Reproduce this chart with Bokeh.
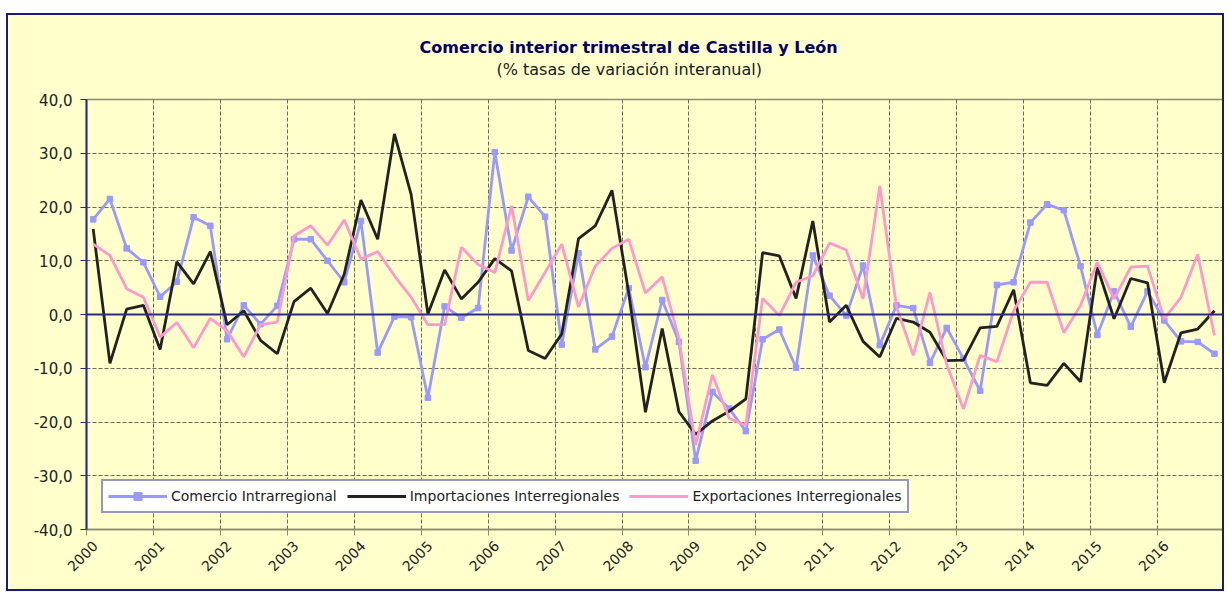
import math
from bokeh.plotting import figure
from bokeh.models import (FixedTicker, CustomJSTickFormatter, Span, Legend, LegendItem,
                          Title, Spacer)
from bokeh.layouts import column, row
from bokeh.embed import file_html
from bokeh.resources import INLINE

# ---------------- data ----------------
years = list(range(2000, 2017))
quarters = [1, 2, 3, 4]

comercio_intrarregional = [
    17.7, 21.5, 12.3, 9.7,
    3.3, 6.1, 18.1, 16.5,
    -4.6, 1.7, -1.8, 1.6,
    14.0, 14.0, 10.0, 6.0,
    17.4, -7.1, -0.4, -0.5,
    -15.5, 1.5, -0.6, 1.2,
    30.2, 11.9, 21.9, 18.2,
    -5.6, 11.4, -6.5, -4.1,
    4.9, -9.8, 2.7, -5.1,
    -27.2, -14.4, -17.5, -21.7,
    -4.6, -2.8, -9.9, 11.0,
    3.5, -0.2, 9.1, -5.7,
    1.7, 1.2, -9.0, -2.5,
    -8.2, -14.2, 5.5, 6.0,
    17.1, 20.5, 19.4, 9.0,
    -3.8, 4.3, -2.3, 4.3,
    -1.1, -5.0, -5.1, -7.3,
]

importaciones_interregionales = [
    15.9, -9.1, 1.0, 1.7,
    -6.5, 9.8, 5.7, 11.7,
    -1.9, 0.7, -4.8, -7.3,
    2.4, 4.9, 0.2, 7.5,
    21.3, 14.0, 33.6, 22.3,
    0.1, 8.3, 2.9, 6.0,
    10.4, 8.1, -6.7, -8.2,
    -3.6, 14.1, 16.5, 23.1,
    4.0, -18.2, -2.6, -18.1,
    -22.3, -19.8, -18.0, -15.7,
    11.5, 10.9, 3.0, 17.4,
    -1.4, 1.7, -5.0, -7.9,
    -0.7, -1.4, -3.3, -8.6,
    -8.5, -2.5, -2.2, 4.6,
    -12.7, -13.2, -9.1, -12.5,
    8.8, -0.8, 6.7, 5.9,
    -12.7, -3.4, -2.7, 0.7,
]

exportaciones_interregionales = [
    13.1, 11.0, 4.8, 3.2,
    -4.2, -1.5, -6.2, -0.7,
    -3.0, -7.9, -1.9, -1.4,
    14.6, 16.5, 12.9, 17.6,
    10.3, 11.7, 7.2, 3.2,
    -1.9, -1.9, 12.5, 9.3,
    7.8, 20.2, 2.6, 7.8,
    13.1, 1.4, 9.0, 12.3,
    14.0, 4.0, 7.0, -4.5,
    -24.3, -11.2, -19.3, -20.6,
    3.0, -0.2, 6.0, 7.2,
    13.3, 12.0, 2.9, 23.9,
    1.4, -7.6, 4.1, -9.3,
    -17.6, -7.6, -8.8, 0.7,
    6.0, 6.0, -3.4, 1.7,
    9.7, 2.9, 8.8, 9.0,
    -0.8, 3.2, 11.2, -3.9,
]

series_labels = ["Comercio Intrarregional", "Importaciones Interregionales",
                 "Exportaciones Interregionales"]
y_ticks = [-40, -30, -20, -10, 0, 10, 20, 30, 40]
y_tick_labels = ["-40,0", "-30,0", "-20,0", "-10,0", "0,0", "10,0", "20,0", "30,0", "40,0"]
title_text = "Comercio interior trimestral de Castilla y León"
subtitle_text = "(% tasas de variación  interanual)"

# ---------------- styling ----------------
YELLOW = "#FFFFCC"
NAVY = "#2b2b80"
OLIVE = "#8c8c6c"
GRID = "#6a6a58"
C_BLUE = "#9999FF"
C_BLACK = "#222222"
C_PINK = "#FF99CC"
FONT = "DejaVu Sans"
POINT_OFFSET = 0.1     # points sit slightly right of the year line
LABEL_OFFSET = 0.13    # year labels sit slightly right of the year line

x = [yr + (q - 1) / 4 + POINT_OFFSET for yr in years for q in quarters]

p = figure(width=1218, height=578, x_range=(years[0], years[-1] + 1), y_range=(-40, 40),
           output_backend="svg", toolbar_location=None, title=None,
           min_border_left=78, min_border_right=2, min_border_top=84, min_border_bottom=64,
           background_fill_color=YELLOW, border_fill_color=YELLOW)
p.outline_line_color = OLIVE
p.outline_line_width = 1.5
p.styles = {"border": "2px solid #1a1a7a"}

# x axis
year_lines = years + [years[-1] + 1]
p.xaxis.ticker = FixedTicker(ticks=[yr + LABEL_OFFSET for yr in years], minor_ticks=year_lines)
p.xaxis.formatter = CustomJSTickFormatter(code="return String(Math.floor(tick));")
p.xaxis.major_tick_out = 0
p.xaxis.major_tick_in = 0
p.xaxis.minor_tick_out = 6
p.xaxis.minor_tick_in = 0
p.xaxis.minor_tick_line_color = OLIVE
p.xaxis.axis_line_color = OLIVE
p.xaxis.axis_line_width = 1.5
p.xaxis.major_label_orientation = math.pi / 4
p.xaxis.major_label_standoff = 8
p.xaxis.major_label_text_font = FONT
p.xaxis.major_label_text_font_size = "14px"
p.xaxis.major_label_text_color = "#222222"

# y axis
p.yaxis.ticker = FixedTicker(ticks=y_ticks)
p.yaxis.major_label_overrides = dict(zip(y_ticks, y_tick_labels))
p.yaxis.axis_line_color = NAVY
p.yaxis.axis_line_width = 2
p.yaxis.major_tick_out = 6
p.yaxis.major_tick_in = 0
p.yaxis.major_tick_line_color = NAVY
p.yaxis.minor_tick_line_color = None
p.yaxis.major_label_standoff = 8
p.yaxis.major_label_text_font = FONT
p.yaxis.major_label_text_font_size = "15px"
p.yaxis.major_label_text_color = "#222222"

# grids
p.xgrid.ticker = FixedTicker(ticks=year_lines)
p.ygrid.ticker = FixedTicker(ticks=y_ticks)
for g in (p.xgrid, p.ygrid):
    g.grid_line_color = GRID
    g.grid_line_dash = "4 2"
    g.grid_line_width = 1

p.add_layout(Span(location=0, dimension="width", line_color=NAVY, line_width=2))

# series
r_blue = p.line(x, comercio_intrarregional, line_color=C_BLUE, line_width=2.8)
r_blue_pts = p.scatter(x, comercio_intrarregional, marker="square", size=5.5,
                       fill_color=C_BLUE, line_color=C_BLUE)
r_black = p.line(x, importaciones_interregionales, line_color=C_BLACK, line_width=2.8)
r_pink = p.line(x, exportaciones_interregionales, line_color=C_PINK, line_width=2.8)

legend = Legend(items=[LegendItem(label=series_labels[0], renderers=[r_blue, r_blue_pts]),
                       LegendItem(label=series_labels[1], renderers=[r_black]),
                       LegendItem(label=series_labels[2], renderers=[r_pink])],
                orientation="horizontal", location=(15, 16), glyph_width=59, glyph_height=20,
                label_height=20, label_standoff=4, spacing=10, padding=5, margin=0,
                background_fill_color="white", background_fill_alpha=1.0,
                border_line_color=NAVY, border_line_width=2,
                label_text_font=FONT, label_text_font_size="14px", label_text_color="#222222")
p.add_layout(legend)

# titles (left-aligned with offsets so that they are centred where the original has them)
p.add_layout(Title(text=subtitle_text, align="left", text_font=FONT, text_font_size="16px",
                   text_font_style="normal", text_color="#1a1a1a", standoff=41, offset=410),
             "above")
p.add_layout(Title(text=title_text, align="left", text_font=FONT, text_font_size="16px",
                   text_font_style="bold", text_color="#000066", standoff=-39, offset=333),
             "above")

layout = column(Spacer(height=13), row(Spacer(width=6), p))
open("out.html", "w").write(file_html(layout, INLINE))
